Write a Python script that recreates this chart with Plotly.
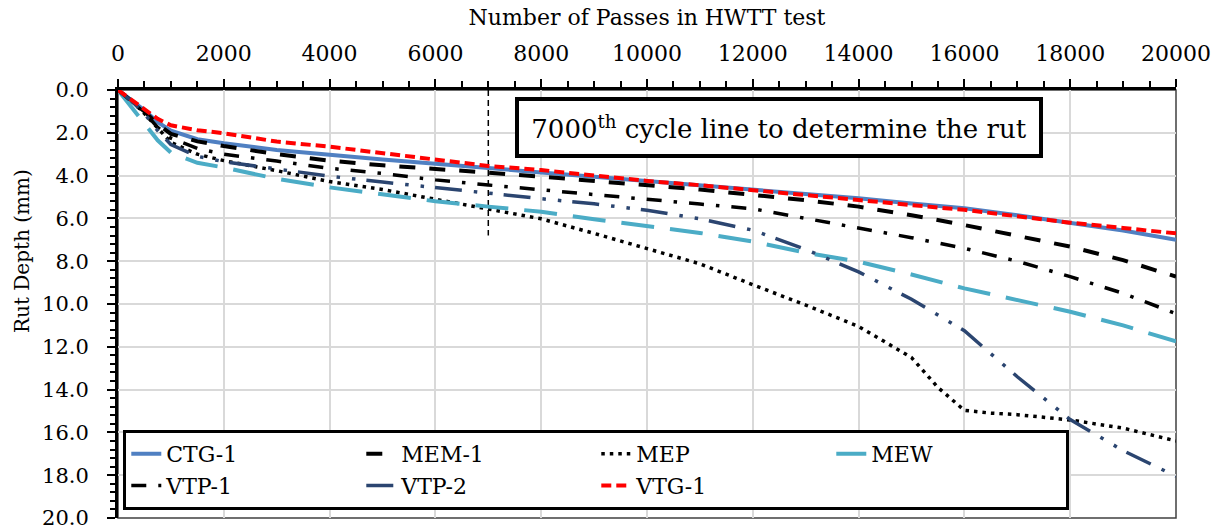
import plotly.graph_objects as go

# ---------------- data ----------------
passes = [0, 250, 500, 750, 1000, 1500, 2000, 3000, 4000, 5000, 6000, 7000, 8000, 9000,
          10000, 11000, 12000, 13000, 14000, 15000, 16000, 17000, 18000, 19000, 20000]

ctg1 = [0, 0.45, 0.95, 1.5, 1.9, 2.3, 2.49, 2.8, 3.04, 3.25, 3.45, 3.63, 3.85, 4.05,
        4.25, 4.45, 4.65, 4.85, 5.06, 5.3, 5.53, 5.85, 6.23, 6.57, 7.0]
mem1 = [0, 0.5, 1.0, 1.6, 2.05, 2.4, 2.62, 3.0, 3.3, 3.52, 3.68, 3.86, 4.05, 4.25,
        4.44, 4.65, 4.9, 5.15, 5.45, 5.85, 6.31, 6.8, 7.32, 7.95, 8.72]
mep_passes = [0, 250, 500, 750, 1000, 1500, 2000, 3000, 4000, 5000, 6000, 7000, 8000, 9000,
              10000, 11000, 12000, 13000, 14000, 15000, 15500, 16000, 16500, 17000, 18000,
              19000, 20000]
mep = [0, 0.5, 1.1, 1.8, 2.45, 3.0, 3.3, 3.77, 4.28, 4.65, 5.12, 5.55, 6.02, 6.7,
       7.4, 8.12, 9.1, 10.05, 11.05, 12.5, 13.9, 14.97, 15.1, 15.17, 15.42, 15.8, 16.4]
mew = [0, 0.8, 1.6, 2.35, 2.93, 3.4, 3.62, 4.15, 4.55, 4.88, 5.2, 5.45, 5.69, 6.04,
       6.35, 6.68, 7.08, 7.6, 8.02, 8.62, 9.27, 9.82, 10.36, 11.0, 11.75]
vtp1 = [0, 0.5, 1.05, 1.75, 2.25, 2.73, 3.0, 3.32, 3.66, 3.9, 4.2, 4.44, 4.67, 4.9,
        5.14, 5.33, 5.55, 6.0, 6.42, 6.9, 7.4, 8.0, 8.72, 9.5, 10.45]
vtp2 = [0, 0.5, 1.1, 1.9, 2.55, 3.1, 3.35, 3.7, 4.03, 4.3, 4.56, 4.85, 5.08, 5.32,
        5.62, 6.02, 6.55, 7.45, 8.5, 9.78, 11.25, 13.4, 15.4, 16.85, 18.05]
vtg1 = [0, 0.45, 0.93, 1.35, 1.65, 1.88, 2.02, 2.41, 2.65, 2.95, 3.27, 3.55, 3.74, 4.0,
        4.25, 4.45, 4.67, 4.9, 5.14, 5.38, 5.6, 5.9, 6.2, 6.45, 6.7]

x_ticks = [0, 2000, 4000, 6000, 8000, 10000, 12000, 14000, 16000, 18000, 20000]
y_ticks = [0, 2, 4, 6, 8, 10, 12, 14, 16, 18, 20]
y_tick_labels = ["0.0", "2.0", "4.0", "6.0", "8.0", "10.0", "12.0", "14.0", "16.0", "18.0", "20.0"]

cutoff_cycle = 7000
cutoff_line_depth = [0, 6.8]

x_title = "Number of Passes in HWTT test"
y_title = "Rut Depth (mm)"
note_text = "7000<sup>th</sup> cycle line to determine the rut"

FONT = "DejaVu Serif"

series = [
    ("CTG-1", passes, ctg1, dict(color="#5080C2", width=4, dash="solid")),
    ("MEM-1", passes, mem1, dict(color="#000000", width=4, dash="16px,14px")),
    ("MEP", mep_passes, mep, dict(color="#000000", width=3.5, dash="3.5px,5px")),
    ("MEW", passes, mew, dict(color="#4BACC6", width=4, dash="33px,16px")),
    ("VTP-1", passes, vtp1, dict(color="#000000", width=3.5, dash="15px,12px,3.5px,12px")),
    ("VTP-2", passes, vtp2, dict(color="#2B4570", width=3.5, dash="27px,12px,3.5px,12px,3.5px,11px")),
    ("VTG-1", passes, vtg1, dict(color="#FF0000", width=4, dash="10px,5px")),
]

fig = go.Figure()

fig.add_trace(go.Scatter(
    x=[cutoff_cycle, cutoff_cycle], y=cutoff_line_depth, mode="lines",
    line=dict(color="black", width=1.5, dash="6px,4px"),
    showlegend=False, hoverinfo="skip"))

for name, xs, ys, ln in series:
    fig.add_trace(go.Scatter(x=xs, y=ys, mode="lines", name=name, line=ln))

fig.update_layout(
    width=1224, height=529,
    margin=dict(l=118, r=48, t=90, b=11, autoexpand=False),
    paper_bgcolor="white", plot_bgcolor="white",
    font=dict(family=FONT, size=20, color="black"),
    legend=dict(
        orientation="h", x=0.005, y=0.2056, xanchor="left", yanchor="top",
        bordercolor="black", borderwidth=3, bgcolor="white",
        entrywidth=190, entrywidthmode="pixels",
        font=dict(family=FONT, size=22, color="black"),
    ),
    showlegend=True,
)

fig.update_xaxes(
    automargin=False,
    side="top", range=[0, 20000], tickmode="array", tickvals=x_ticks,
    tickformat="d",
    showgrid=True, gridcolor="#D9D9D9", gridwidth=2,
    showline=True, linecolor="black", linewidth=3,
    ticks="outside", ticklen=8, tickwidth=2, tickcolor="black",
    minor=dict(dtick=500, tick0=0, ticks="outside", ticklen=6, tickwidth=2, tickcolor="black", showgrid=False),
    tickfont=dict(family=FONT, size=22), ticklabelstandoff=9,
    title=dict(text=x_title, font=dict(family=FONT, size=22), standoff=10),
    zeroline=False,
)

fig.update_yaxes(
    automargin=False,
    range=[20, 0], tickmode="array", tickvals=y_ticks, ticktext=y_tick_labels,
    showgrid=True, gridcolor="#D9D9D9", gridwidth=2,
    showline=True, linecolor="black", linewidth=3,
    ticks="outside", ticklen=8, tickwidth=2, tickcolor="black",
    minor=dict(dtick=0.4, tick0=0, ticks="outside", ticklen=5, tickwidth=2, tickcolor="black", showgrid=False),
    tickfont=dict(family=FONT, size=21), ticklabelstandoff=14,
    ticklabeloverflow="allow",
    zeroline=False,
)

# thin frame on right/bottom of plot area
fig.add_shape(type="rect", xref="paper", yref="paper", x0=0, y0=0, x1=1, y1=1,
              line=dict(color="#404040", width=1.5), layer="below")

fig.add_annotation(
    xref="paper", yref="paper", x=0.625, y=0.912, xanchor="center", yanchor="middle",
    text=note_text, showarrow=False, font=dict(family=FONT, size=26, color="black"),
    bordercolor="black", borderwidth=4, borderpad=4, bgcolor="white",
    width=512, height=45, align="center",
)

fig.add_annotation(
    xref="paper", yref="paper", x=(22 - 118) / 1058, y=1 - (251 - 90) / 428,
    xanchor="center", yanchor="middle", textangle=-90,
    text=y_title, showarrow=False, font=dict(family=FONT, size=20, color="black"),
)

fig.write_html("out.html")
